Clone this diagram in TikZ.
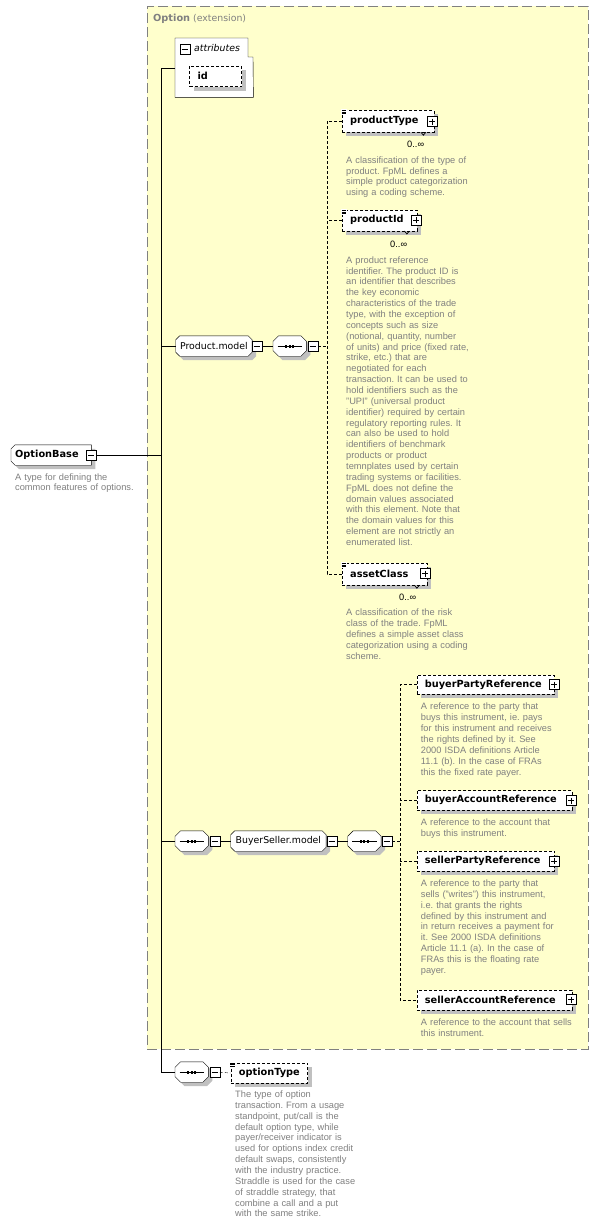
\documentclass[tikz,border=0pt]{standalone}
\usepackage{fontspec}
\setmainfont{Liberation Sans}
\newfontfamily\namefont{DejaVu Sans}
\usetikzlibrary{shadows}
\definecolor{bgyellow}{RGB}{255,255,204}
\definecolor{bordergray}{RGB}{128,128,128}
\definecolor{descgray}{RGB}{128,128,128}
\definecolor{shgray}{RGB}{192,192,192}
\pgfdeclarelayer{bgA}\pgfdeclarelayer{bgB}\pgfsetlayers{bgA,bgB,main}
\newcommand\fixw[2]{\makebox[#1][l]{#2}}
\newcommand\mkeqicon[1]{%
  \fill[white] ([xshift=-0.6bp,yshift=0.6bp]#1.north west) rectangle ([xshift=4.8bp,yshift=-5bp]#1.north west);
  \foreach \k in {0.6,2.3,4.0} \draw[line width=0.7bp] ([xshift=-0.5bp,yshift=-\k bp]#1.north west) -- ++(4.8bp,0);
}
\newcommand\mkvmark[1]{%
  \draw[line width=0.7bp] ([xshift=-13bp]#1.south east) -- ++(2.5bp,-3bp) -- ++(2.5bp,3bp);
}
\newcommand\octshape[3]{%
  \path[fill=shgray, transform canvas={xshift=4bp,yshift=-4bp}] ([xshift=#2]#1.north west) -- ([xshift=-#3]#1.north east) -- ([yshift=-#3]#1.north east) -- ([yshift=#3]#1.south east) -- ([xshift=-#3]#1.south east) -- ([xshift=#2]#1.south west) -- ([yshift=#2]#1.south west) -- ([yshift=-#2]#1.north west) -- cycle;
  \path[draw, fill=white] ([xshift=#2]#1.north west) -- ([xshift=-#3]#1.north east) -- ([yshift=-#3]#1.north east) -- ([yshift=#3]#1.south east) -- ([xshift=-#3]#1.south east) -- ([xshift=#2]#1.south west) -- ([yshift=#2]#1.south west) -- ([yshift=-#2]#1.north west) -- cycle;
}
\newcommand\seqsym[1]{%
  \draw ([xshift=4.5bp]#1.west) -- ([xshift=-4.5bp]#1.east);
  \foreach \d in {-3.5,0,3.5} \fill ([xshift=\d bp]#1.center) +(-1bp,-1.5bp) rectangle +(1bp,1.5bp);
}
\begin{document}
\frenchspacing
\begin{tikzpicture}[x=1bp,y=-1bp,line width=1bp,
  shd/.style={general shadow={fill=shgray, shadow xshift=4bp, shadow yshift=-4bp}},
  nm/.style={font=\namefont\fontsize{9.4}{11}\selectfont},
  bnm/.style={font=\namefont\bfseries\fontsize{9.8}{11}\selectfont},
  desc/.style={font=\fontsize{9.3}{10.9}\selectfont, text=descgray, anchor=base west, inner sep=0, align=left, text width=220bp},
  elembox/.style={draw, fill=white, shd, anchor=west, inner xsep=8bp, inner ysep=0, bnm, dash pattern=on 3bp off 2bp},
  shapebox/.style={anchor=west, minimum height=20bp, inner sep=0},
  seqbox/.style={shapebox, minimum width=33bp},
  mbox/.style={draw, fill=white, minimum size=10bp, inner sep=0,
    path picture={\draw ([xshift=2bp]path picture bounding box.west) -- ([xshift=-2bp]path picture bounding box.east);}},
  pbox/.style={draw, fill=white, minimum size=10bp, inner sep=0,
    path picture={\draw ([xshift=2bp]path picture bounding box.west) -- ([xshift=-2bp]path picture bounding box.east);
                  \draw ([yshift=-2bp]path picture bounding box.north) -- ([yshift=2bp]path picture bounding box.south);}},
  dconn/.style={dash pattern=on 3bp off 2bp},
  mult/.style={font=\fontsize{9.3}{11}\selectfont, anchor=base west, inner sep=0},
  container/.style={draw=bordergray, fill=bgyellow, dash pattern=on 10bp off 4bp, anchor=north west, inner sep=0}
]
\useasboundingbox (0,0) rectangle (599,1226);

% background and container
\begin{pgfonlayer}{bgA}
\fill[white] (0,0) rectangle (599,1226);
\node[container, minimum width=441bp, minimum height=1043bp] (optext) at (147,6) {};
\end{pgfonlayer}
\node[anchor=base west, inner sep=0, text=bordergray, nm] (optlabel) at (153,21.5) {{\fontsize{9.8}{11}\selectfont\bfseries Option} (extension)};

% attributes
\node[inner sep=0, minimum width=78bp, minimum height=59bp, anchor=north west] (attr) at (175,38) {};
\draw[fill=white] (attr.north west) -- ++(73bp,0) -- ++(0,-19bp) -- ++(5bp,0) -- (attr.south east) -- (attr.south west) -- cycle;
\node[mbox] (attrm) at (184.7,48.7) {};
\node[anchor=west, inner sep=0, font=\namefont\itshape\fontsize{9.4}{11}\selectfont] (attrl) at (194,48.5) {attributes};
\node[elembox, minimum height=20.7bp] (id) at (189.3,76.3) {\fixw{36bp}{id}};

% OptionBase
\node[shapebox, minimum width=80bp, bnm] (ob) at (11,455) {\fixw{72bp}{OptionBase}};
\node[mbox] (obm) at (91,455) {};
\node[desc] (obd) at (15,480) {A type for defining the\\common features of options.};

% Product.model branch
\node[shapebox, minimum width=76bp, nm] (pm) at (175.7,346) {Product.model};
\node[mbox] (pmm) at (256.7,346) {};
\node[seqbox] (seqP) at (273,346) {};
\node[mbox] (seqPm) at (312.7,346) {};
\coordinate (vP) at (327,346);

\node[elembox, minimum height=22bp] (pt) at (342,121) {\fixw{75.5bp}{productType}};
\node[pbox] (ptp) at (432,121.5) {};
\mkeqicon{pt}\mkvmark{pt}
\node[mult] (ptm) at (407,147.5) {0..∞};
\node[desc] (ptd) at (346,163.2) {A classification of the type of\\product. FpML defines a\\simple product categorization\\using a coding scheme.};

\node[elembox, minimum height=21bp] (pid) at (342,220.3) {\fixw{59bp}{productId}};
\node[pbox] (pidp) at (416,220.3) {};
\mkeqicon{pid}\mkvmark{pid}
\node[mult] (pidm) at (390,247.5) {0..∞};
\node[desc] (pidd) at (346,263.2) {A product reference\\identifier. The product ID is\\an identifier that describes\\the key economic\\characteristics of the trade\\type, with the exception of\\concepts such as size\\(notional, quantity, number\\of units) and price (fixed rate,\\strike, etc.) that are\\negotiated for each\\transaction. It can be used to\\hold identifiers such as the\\"UPI" (universal product\\identifier) required by certain\\regulatory reporting rules. It\\can also be used to hold\\identifiers of benchmark\\products or product\\temnplates used by certain\\trading systems or facilities.\\FpML does not define the\\domain values associated\\with this element. Note that\\the domain values for this\\element are not strictly an\\enumerated list.};

\node[elembox, minimum height=22bp] (ac) at (342,574) {\fixw{69bp}{assetClass}};
\node[pbox] (acp) at (424.8,573.5) {};
\mkeqicon{ac}\mkvmark{ac}
\node[mult] (acm) at (399,600) {0..∞};
\node[desc] (acd) at (346,615.9) {A classification of the risk\\class of the trade. FpML\\defines a simple asset class\\categorization using a coding\\scheme.};

% BuyerSeller branch
\node[seqbox] (seqB1) at (175,841) {};
\node[mbox] (b1m) at (214.7,841) {};
\node[shapebox, minimum width=95bp, nm] (bsm) at (230.7,841) {BuyerSeller.model};
\node[mbox] (bsmm) at (331.7,841) {};
\node[seqbox] (seqB2) at (347.7,841) {};
\node[mbox] (b2m) at (386.7,841) {};
\coordinate (vB) at (400,841);

\node[elembox, minimum height=19.5bp] (bpr) at (416.7,684.6) {\fixw{121.3bp}{buyerPartyReference}};
\node[pbox] (bprp) at (554.2,684.6) {};
\node[desc] (bprd) at (420.7,709.9) {A reference to the party that\\buys this instrument, ie. pays\\for this instrument and receives\\the rights defined by it. See\\2000 ISDA definitions Article\\11.1 (b). In the case of FRAs\\this the fixed rate payer.};

\node[elembox, minimum height=19.5bp] (bar) at (416.7,800.3) {\fixw{139bp}{buyerAccountReference}};
\node[pbox] (barp) at (571.2,800.5) {};
\node[desc] (bard) at (420.7,825.9) {A reference to the account that\\buys this instrument.};

\node[elembox, minimum height=20bp] (spr) at (416.7,861) {\fixw{121.3bp}{sellerPartyReference}};
\node[pbox] (sprp) at (554.2,861) {};
\node[desc] (sprd) at (420.7,886.5) {A reference to the party that\\sells ("writes") this instrument,\\i.e. that grants the rights\\defined by this instrument and\\in return receives a payment for\\it. See 2000 ISDA definitions\\Article 11.1 (a). In the case of\\FRAs this is the floating rate\\payer.};

\node[elembox, minimum height=20bp] (sar) at (416.7,1000) {\fixw{139bp}{sellerAccountReference}};
\node[pbox] (sarp) at (571.2,999.5) {};
\node[desc] (sard) at (420.7,1025.2) {A reference to the account that sells\\this instrument.};

% optionType branch
\node[seqbox] (seqO) at (175,1072) {};
\node[mbox] (om) at (214.7,1072.3) {};
\node[elembox, minimum height=20.6bp] (ot) at (230.7,1073) {\fixw{60.6bp}{optionType}};
\mkeqicon{ot}
\node[desc] (otd) at (235,1097.5) {The type of option\\transaction. From a usage\\standpoint, put/call is the\\default option type, while\\payer/receiver indicator is\\used for options index credit\\default swaps, consistently\\with the industry practice.\\Straddle is used for the case\\of straddle strategy, that\\combine a call and a put\\with the same strike.};

% chamfered shapes drawn beneath their texts
\begin{pgfonlayer}{bgB}
\octshape{ob}{4bp}{0bp}
\octshape{pm}{4bp}{4bp}
\octshape{bsm}{4bp}{4bp}
\octshape{seqP}{5.5bp}{5.5bp}
\octshape{seqB1}{5.5bp}{5.5bp}
\octshape{seqB2}{5.5bp}{5.5bp}
\octshape{seqO}{5.5bp}{5.5bp}
\end{pgfonlayer}
\seqsym{seqP}\seqsym{seqB1}\seqsym{seqB2}\seqsym{seqO}

% connectors
\coordinate (tA) at (161,67.5);
\draw (attr.west) -| (seqO.west -| tA) -- (seqO.west);
\draw (obm.east) -- (obm.east -| tA);
\draw (pm.west) -- (pm.west -| tA);
\draw (seqB1.west) -- (seqB1.west -| tA);
\draw (pmm.east) -- (seqP.west);
\draw (b1m.east) -- (bsm.west);
\draw (bsmm.east) -- (seqB2.west);
\draw[dconn] (seqPm.east) -- (vP);
\draw[dconn] (pt.west) -- (pt.west -| vP) -- (ac.west -| vP) -- (ac.west);
\draw[dconn] (pid.west) -- (pid.west -| vP);
\draw[dconn] (b2m.east) -- (vB);
\draw[dconn] (bpr.west) -- (bpr.west -| vB) -- (sar.west -| vB) -- (sar.west);
\draw[dconn] (bar.west) -- (bar.west -| vB);
\draw[dconn] (spr.west) -- (spr.west -| vB);
\draw[dconn] (om.east) -- (ot.west);
\end{tikzpicture}
\end{document}
